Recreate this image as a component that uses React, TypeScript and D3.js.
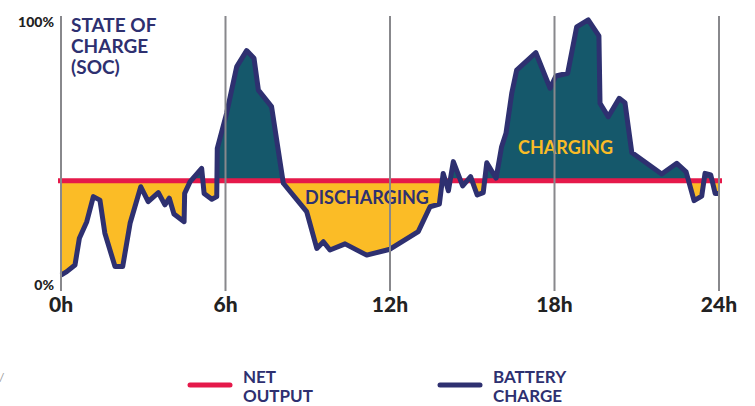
import React, { useRef, useEffect } from 'react';
import * as d3 from 'd3';

// battery state of charge over the day (hour, %)
const hours = [
  0, 0.21, 0.51, 0.67, 0.94, 1.18, 1.42, 1.6, 1.97, 2.25, 2.52, 2.91, 3.18, 3.55, 3.79, 3.95,
  4.12, 4.49, 4.51, 4.71, 5.13, 5.22, 5.5, 5.68, 5.7, 6.04, 6.41, 6.77, 7.04, 7.2, 7.68, 8.11,
  8.96, 9.33, 9.57, 9.81, 10.36, 11.15, 12.0, 13.03, 13.46, 13.8, 13.94, 14.13, 14.31, 14.65,
  14.94, 15.18, 15.4, 15.53, 15.87, 16.07, 16.23, 16.44, 16.62, 17.32, 17.84, 18.05, 18.48,
  18.81, 19.23, 19.62, 19.66, 19.96, 20.36, 20.57, 20.82, 21.91, 22.46, 22.8, 23.09, 23.37,
  23.49, 23.7, 23.86, 24
];
const soc = [
  3.7, 5.0, 7.5, 17.5, 23.7, 33.1, 31.8, 19.4, 6.9, 6.9, 23.1, 36.8, 31.2, 34.6, 30.0, 32.5,
  26.6, 23.7, 34.3, 38.7, 43.7, 34.3, 32.1, 33.1, 51.2, 64.3, 81.8, 87.8, 84.9, 73.0, 66.8, 38.1,
  27.5, 13.7, 16.2, 13.1, 15.4, 11.2, 13.4, 20.0, 29.3, 30.3, 41.8, 35.3, 46.2, 37.1,
  40.6, 33.7, 34.6, 45.8, 40.0, 51.8, 56.8, 71.8, 80.5, 87.0, 73.7, 78.3, 79.3,
  96.7, 99.3, 93.3, 68.1, 63.0, 69.9, 68.3, 49.6, 41.6, 45.6, 42.4, 31.6, 33.3,
  41.8, 41.2, 34.3, 34.3
];
const netOutput = 39;

const hourTicks = [0, 6, 12, 18, 24];
const socTicks = [0, 100];
const socTickLabels = ['0%', '100%'];
const titleLines = ['STATE OF', 'CHARGE', '(SOC)'];
const legendItems = [
  { lines: ['NET', 'OUTPUT'], color: '#e5194a' },
  { lines: ['BATTERY', 'CHARGE'], color: '#2e3070' }
];

const SocChart: React.FC = () => {
  const svgRef = useRef<SVGSVGElement | null>(null);

  useEffect(() => {
    const svg = d3.select(svgRef.current);
    svg.selectAll('*').remove();

    const width = 755;
    const height = 406;
    const navy = '#2e3070';
    const font = 'Lato, "Open Sans", sans-serif';

    svg.attr('width', width).attr('height', height);

    const x = d3.scaleLinear().domain([0, 24]).range([61, 719]);
    const y = d3.scaleLinear().domain([0, 100]).range([285, 18]);
    const yNet = y(netOutput);

    const data = hours.map((h, i) => ({ h, v: soc[i] }));

    const defs = svg.append('defs');
    defs.append('clipPath').attr('id', 'above')
      .append('rect').attr('x', 0).attr('y', 0).attr('width', width).attr('height', yNet);
    defs.append('clipPath').attr('id', 'below')
      .append('rect').attr('x', 0).attr('y', yNet).attr('width', width).attr('height', height - yNet);

    const area = d3.area<{ h: number; v: number }>()
      .x(d => x(d.h))
      .y0(yNet)
      .y1(d => y(d.v));

    svg.append('path').datum(data)
      .attr('d', area)
      .attr('fill', '#15586b')
      .attr('clip-path', 'url(#above)');
    svg.append('path').datum(data)
      .attr('d', area)
      .attr('fill', '#fbbc26')
      .attr('clip-path', 'url(#below)');

    // net output line
    svg.append('line')
      .attr('x1', x(0) - 3).attr('x2', x(24) + 3)
      .attr('y1', yNet).attr('y2', yNet)
      .attr('stroke', '#e5194a')
      .attr('stroke-width', 5);

    // battery charge line
    const line = d3.line<{ h: number; v: number }>()
      .x(d => x(d.h))
      .y(d => y(d.v));
    svg.append('path').datum(data)
      .attr('d', line)
      .attr('fill', 'none')
      .attr('stroke', navy)
      .attr('stroke-width', 5)
      .attr('stroke-linejoin', 'round');

    // region labels
    svg.append('text')
      .attr('x', 305).attr('y', 204)
      .attr('font-family', font).attr('font-weight', 'bold').attr('font-size', 18)
      .attr('fill', navy)
      .text('DISCHARGING');
    svg.append('text')
      .attr('x', 518).attr('y', 154)
      .attr('font-family', font).attr('font-weight', 'bold').attr('font-size', 18)
      .attr('fill', '#fbbc26')
      .text('CHARGING');

    // title
    titleLines.forEach((t, i) => {
      svg.append('text')
        .attr('x', 71).attr('y', 32 + i * 21)
        .attr('font-family', font).attr('font-weight', 'bold').attr('font-size', 19)
        .attr('fill', navy)
        .text(t);
    });

    // y labels
    socTicks.forEach((t, i) => {
      svg.append('text')
        .attr('x', 54).attr('y', t === 100 ? 27 : 290)
        .attr('text-anchor', 'end')
        .attr('font-family', font).attr('font-weight', 900).attr('font-size', 14)
        .attr('fill', '#222')
        .text(socTickLabels[i]);
    });

    // x labels
    svg.append('g')
      .selectAll('text')
      .data(hourTicks)
      .join('text')
      .attr('x', d => x(d))
      .attr('y', 312)
      .attr('text-anchor', 'middle')
      .attr('font-family', font).attr('font-weight', 900).attr('font-size', 21)
      .attr('fill', '#222')
      .text(d => `${d}h`);

    // gridlines on top
    svg.append('g')
      .selectAll('line')
      .data(hourTicks)
      .join('line')
      .attr('x1', d => x(d)).attr('x2', d => x(d))
      .attr('y1', 16).attr('y2', 291)
      .attr('stroke', '#88888c')
      .attr('stroke-width', 2);

    // legend
    legendItems.forEach((item, i) => {
      const g = svg.append('g').attr('transform', `translate(${188 + i * 250}, 0)`);
      g.append('line')
        .attr('x1', 2).attr('x2', 42)
        .attr('y1', 385).attr('y2', 385)
        .attr('stroke', item.color)
        .attr('stroke-width', 5)
        .attr('stroke-linecap', 'round');
      item.lines.forEach((t, j) => {
        g.append('text')
          .attr('x', 55).attr('y', 383 + j * 19)
          .attr('font-family', font).attr('font-weight', 'bold').attr('font-size', 17)
          .attr('fill', navy)
          .text(t);
      });
    });

    svg.append('text')
      .attr('x', -1).attr('y', 382)
      .attr('font-family', font).attr('font-size', 12)
      .attr('fill', '#999')
      .text('/');
  }, []);

  return (
    <svg ref={svgRef} style={{ position: 'absolute', left: 0, top: 0, display: 'block' }}></svg>
  );
};

export default function App() {
  return <SocChart />;
}
